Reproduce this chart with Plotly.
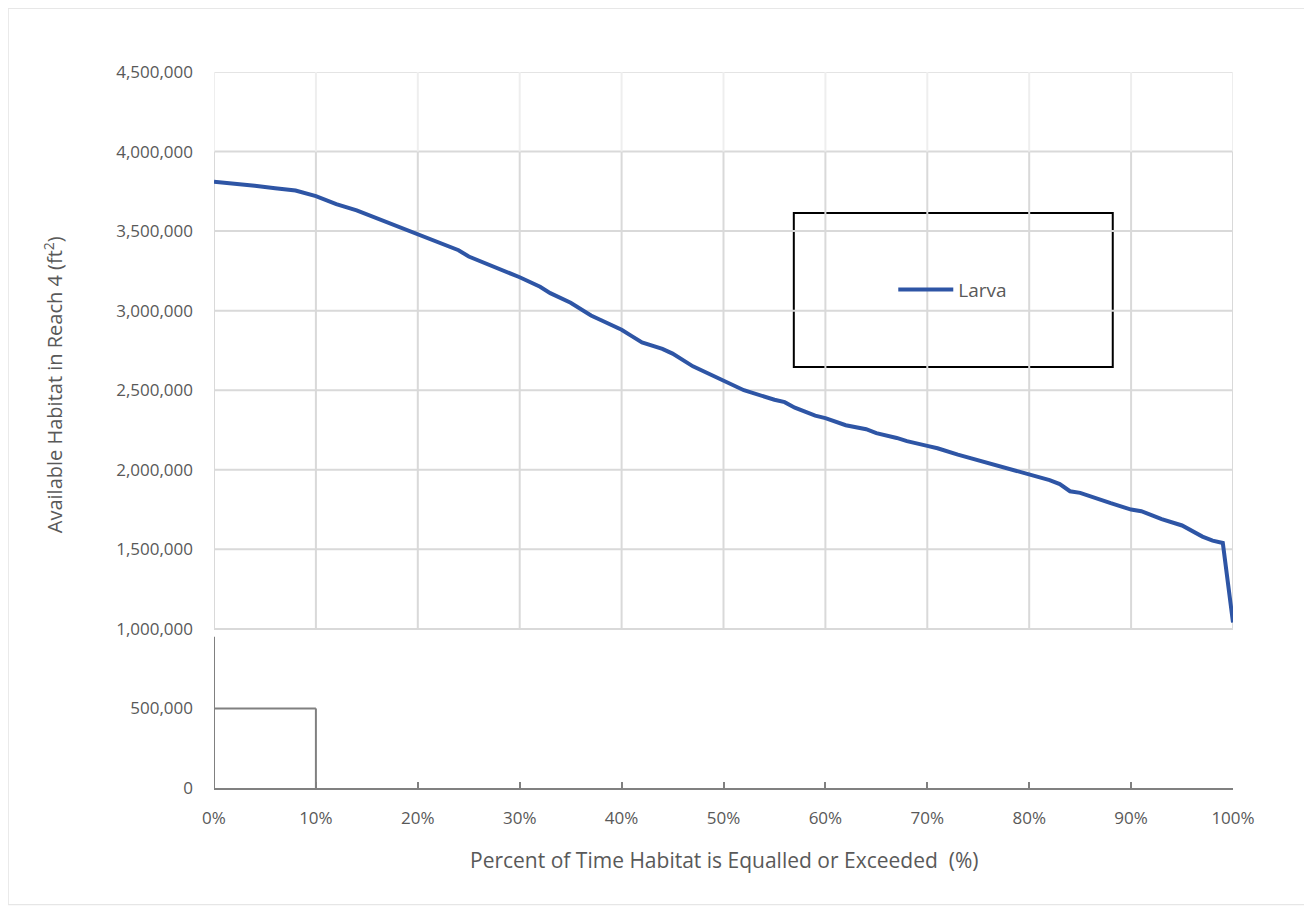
import plotly.graph_objects as go

# ---- data ----
percent = [0, 2, 4, 6, 7, 8, 10, 12, 14, 16, 18, 20, 22, 24, 25, 27, 28, 30, 32, 33, 35,
           37, 38, 40, 41, 42, 44, 45, 47, 50, 52, 55, 56, 57, 59, 60, 62, 64, 65, 67,
           68, 70, 71, 73, 75, 76, 78, 80, 82, 83, 84, 85, 87, 88, 90, 91, 92, 93, 95,
           97, 98, 99, 100]
habitat = [3810000, 3800000, 3785000, 3770000, 3765000, 3755000, 3720000, 3670000, 3630000,
           3580000, 3530000, 3480000, 3430000, 3380000, 3340000, 3290000, 3265000,
           3210000, 3150000, 3110000, 3050000, 2970000, 2940000, 2880000, 2840000,
           2800000, 2760000, 2730000, 2650000, 2560000, 2500000, 2440000, 2425000,
           2390000, 2340000, 2325000, 2280000, 2255000, 2230000, 2200000, 2180000,
           2150000, 2135000, 2095000, 2060000, 2040000, 2005000, 1970000, 1935000,
           1910000, 1865000, 1855000, 1810000, 1790000, 1750000, 1740000, 1715000,
           1690000, 1650000, 1580000, 1555000, 1540000, 1040000]
series_name = "Larva"
x_ticks = list(range(0, 101, 10))
y_ticks = list(range(0, 4500001, 500000))

GRID = "#d9d9d9"
GRID_FAINT = "#eeeeee"
AXIS = "#808080"
TXT = "#595959"

fig = go.Figure()
fig.add_trace(go.Scatter(x=percent, y=habitat, mode="lines", name=series_name,
                         line=dict(color="#2E55A5", width=4)))

shapes = []
# horizontal grid lines (visible band 1M-4M), faint at 4.5M
for v in y_ticks:
    if 1000000 <= v <= 4000000:
        shapes.append(dict(type="line", xref="x", yref="y", x0=0, x1=100, y0=v, y1=v,
                           line=dict(color=GRID, width=2), layer="below"))
shapes.append(dict(type="line", xref="x", yref="y", x0=0, x1=100, y0=4500000, y1=4500000,
                   line=dict(color="#e4e4e4", width=2), layer="below"))
# vertical grid lines
for t in x_ticks:
    shapes.append(dict(type="line", xref="x", yref="y", x0=t, x1=t, y0=1000000, y1=4000000,
                       line=dict(color=GRID, width=2), layer="below"))
    shapes.append(dict(type="line", xref="x", yref="y", x0=t, x1=t, y0=4000000, y1=4500000,
                       line=dict(color=GRID_FAINT, width=2), layer="below"))
# dark axis pieces in the lower-left
shapes.append(dict(type="line", xref="x", yref="y", x0=0, x1=0, y0=0, y1=950000,
                   line=dict(color=AXIS, width=2)))
shapes.append(dict(type="line", xref="x", yref="y", x0=0, x1=10, y0=500000, y1=500000,
                   line=dict(color=AXIS, width=2)))
shapes.append(dict(type="line", xref="x", yref="y", x0=10, x1=10, y0=0, y1=500000,
                   line=dict(color=AXIS, width=2)))
# legend box
shapes.append(dict(type="rect", xref="paper", yref="paper", x0=0.569, x1=0.882,
                   y0=0.588, y1=0.803, line=dict(color="black", width=2),
                   fillcolor="white", layer="below"))
# outer chart frame
shapes.append(dict(type="rect", xref="paper", yref="paper", x0=-0.202, x1=1.0707,
                   y0=-0.163, y1=1.089, line=dict(color="#e0e0e0", width=1)))

fig.update_layout(
    width=1304, height=901,
    margin=dict(l=206, r=79, t=64, b=121),
    paper_bgcolor="white", plot_bgcolor="white",
    font=dict(family="Open Sans", size=17, color=TXT),
    shapes=shapes,
    showlegend=True,
    legend=dict(x=0.725, y=0.696, xanchor="center", yanchor="middle", itemwidth=55,
                bgcolor="rgba(0,0,0,0)", font=dict(size=19, color=TXT)),
    xaxis=dict(range=[0, 100], tickvals=x_ticks, ticktext=[f"{t}%" for t in x_ticks],
               showgrid=False, zeroline=False, showline=True, linecolor=AXIS, linewidth=2,
               ticks="inside", ticklen=6, tickcolor=AXIS, tickwidth=2,
               ticklabelstandoff=14, tickfont=dict(size=17, color=TXT)),
    yaxis=dict(range=[0, 4500000], tickvals=y_ticks,
               ticktext=[f"{v:,}" for v in y_ticks],
               showgrid=False, zeroline=False, showline=False,
               ticklabelstandoff=20, tickfont=dict(size=17, color=TXT)),
    annotations=[
        dict(text="Available Habitat in Reach 4 (ft<sup>2</sup>)", xref="paper", yref="paper",
             x=-0.158, y=0.564, textangle=-90, showarrow=False,
             xanchor="center", yanchor="middle", font=dict(size=20, color=TXT)),
        dict(text="Percent of Time Habitat is Equalled or Exceeded  (%)", xref="paper",
             yref="paper", x=0.5, y=-0.1006, showarrow=False, xanchor="center",
             yanchor="middle", font=dict(size=21, color=TXT)),
    ],
)

fig.write_html("out.html")
